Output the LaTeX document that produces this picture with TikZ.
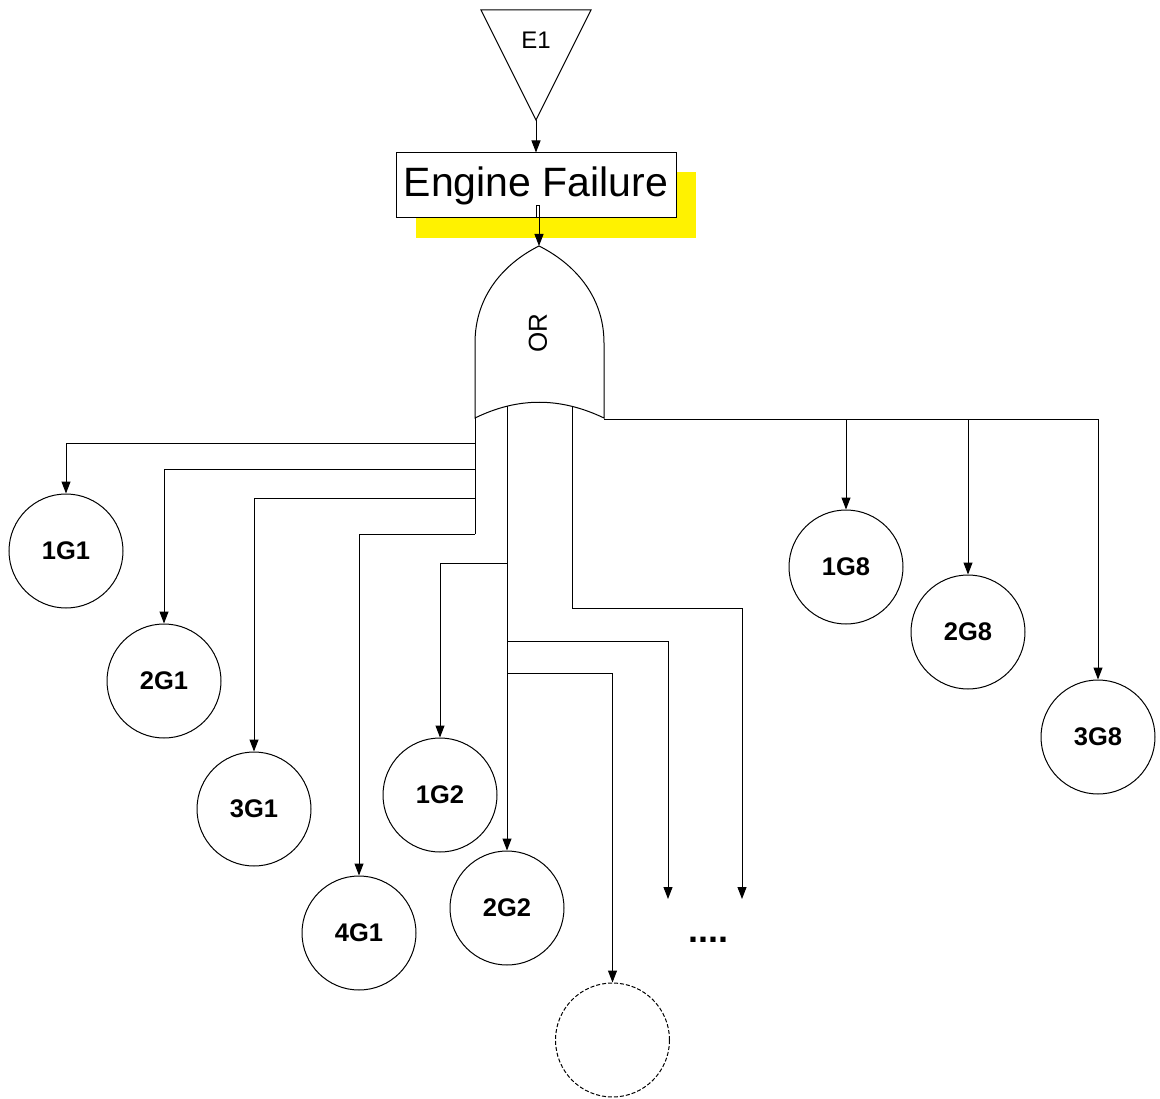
\documentclass[tikz,border=0pt]{standalone}
\usepackage{fontspec}
\setmainfont{Liberation Sans}
\usetikzlibrary{arrows.meta}
\begin{document}
\begin{tikzpicture}[x=1pt,y=-1pt,line width=1pt,
  arr/.style={-{Triangle[length=12pt,width=9pt]}},
  event/.style={circle,draw,minimum size=114pt,inner sep=0pt,
    font=\fontsize{25.5}{30}\selectfont\bfseries},
  lbl/.style={inner sep=0pt}]
\useasboundingbox (0,0) rectangle (1160,1099);

% top transfer triangle
\draw (481,10) -- (591,10) -- (536,120) -- cycle;
\coordinate (e1tip) at (536,120);
\node[lbl,font=\fontsize{24}{28}\selectfont] (e1) at (536,40) {E1};

% top event box with yellow shadow
\fill[yellow] (416,172) rectangle (696,238);
\node[draw,fill=white,minimum width=280pt,minimum height=65pt,inner sep=0pt,
  font=\fontsize{41}{46}\selectfont] (ef) at (536,185.5) {Engine Failure};
\draw[arr] (e1tip) -- (ef.north);

% OR gate
\coordinate (orapex) at (539,246);
\coordinate (orl) at (475,418);
\coordinate (orr) at (604,418);
\draw[fill=white] (orl) -- (475,343) .. controls (475,295) and (505,263) .. (orapex)
  .. controls (573,263) and (604,295) .. (604,343) -- (orr)
  .. controls (560,397) and (518,397) .. cycle;
\node[lbl,rotate=90,font=\fontsize{26}{30}\selectfont] (ortext) at (538,333) {OR};
\draw[arr] (ef.south) -- ++(0,-13) -| (orapex);

% basic events
\node[event] (g11) at (66,551) {1G1};
\node[event] (g21) at (164,681) {2G1};
\node[event] (g31) at (254,809) {3G1};
\node[event] (g41) at (359,933) {4G1};
\node[event] (g12) at (440,795) {1G2};
\node[event] (g22) at (507,908) {2G2};
\node[event,dashed,dash pattern=on 4pt off 2pt] (gx) at (612.5,1040) {};
\node[event] (g18) at (846,567) {1G8};
\node[event] (g28) at (968,632) {2G8};
\node[event] (g38) at (1098,737) {3G8};
\node[lbl,font=\fontsize{36}{40}\selectfont\bfseries] (dots) at (708.5,940) {....};

% left trunk
\draw (orl) -- (475,534);
\draw[arr] (475,443) -| (g11.north);
\draw[arr] (475,469) -| (g21.north);
\draw[arr] (475,498) -| (g31.north);
\draw[arr] (475,534) -| (g41.north);

% centre trunk
\coordinate (ct) at (507,406);
\coordinate (openA) at (668,899);
\coordinate (openB) at (742,899);
\draw[arr] (ct) -- (g22.north);
\draw[arr] (507,563) -| (g12.north);
\draw[arr] (507,641) -| (openA);
\draw[arr] (507,673) -| (gx.north);
\draw[arr] (572,406) |- (742,608) -- (openB);

% right trunk
\draw[arr] (604,419) -| (g38.north);
\draw[arr] (846,419) -- (g18.north);
\draw[arr] (968,419) -- (g28.north);
\end{tikzpicture}
\end{document}
